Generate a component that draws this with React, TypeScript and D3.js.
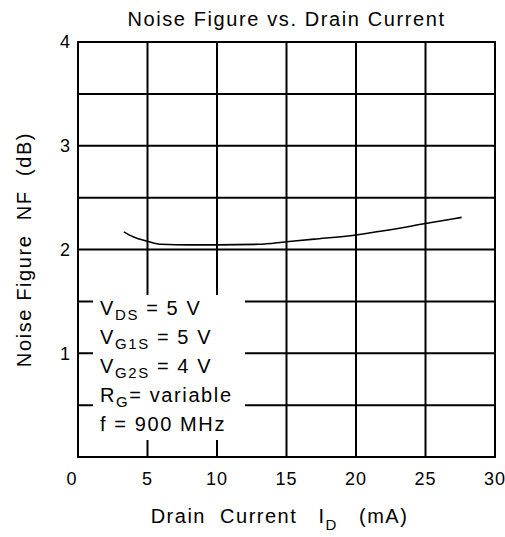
import React from 'react';
import * as d3 from 'd3';

// drain current (mA) and noise figure (dB)
const current = [3.3, 4, 5, 6, 8, 10, 13, 15, 17, 20, 22, 25, 27.6];
const noiseFigure = [2.17, 2.12, 2.08, 2.05, 2.045, 2.045, 2.05, 2.075, 2.1, 2.14, 2.18, 2.25, 2.31];

const xTicks = [0, 5, 10, 15, 20, 25, 30];
const yTicks = [0, 1, 2, 3, 4];
const yGrid = [0.5, 1, 1.5, 2, 2.5, 3, 3.5];

const conditions = [
  { main: 'V', sub: 'DS', rest: ' = 5 V' },
  { main: 'V', sub: 'G1S', rest: ' = 5 V' },
  { main: 'V', sub: 'G2S', rest: ' = 4 V' },
  { main: 'R', sub: 'G', rest: '= variable' },
  { main: 'f = 900 MHz', sub: '', rest: '' },
];

const W = 505;
const H = 537;
const margin = { top: 42, right: 10, bottom: 80, left: 78 };
const font = '"Liberation Sans", Arial, sans-serif';
const nb = '\u00a0'; // keeps the wide gaps in the axis titles

const App = () => {
  const x = d3.scaleLinear().domain([0, 30]).range([margin.left, W - margin.right]);
  const y = d3.scaleLinear().domain([0, 4]).range([H - margin.bottom, margin.top]);

  const line = d3
    .line<number>()
    .x((d, i) => x(current[i]))
    .y((d) => y(d))
    .curve(d3.curveMonotoneX);

  // white box behind the test conditions
  const box = { x0: 93, x1: 245, y0: 295, y1: 440 };

  return (
    <svg
      width={W}
      height={H}
      style={{ position: 'absolute', left: 0, top: 0, background: '#fff' }}
      fontFamily={font}
    >
      {/* grid */}
      {xTicks.slice(1, -1).map((t) => (
        <line key={'vx' + t} x1={x(t)} x2={x(t)} y1={y(0)} y2={y(4)} stroke="#000" strokeWidth={2} />
      ))}
      {yGrid.map((t) => (
        <line key={'hy' + t} x1={x(0)} x2={x(30)} y1={y(t)} y2={y(t)} stroke="#000" strokeWidth={2} />
      ))}
      <rect x={box.x0} y={box.y0} width={box.x1 - box.x0} height={box.y1 - box.y0} fill="#fff" />
      <rect
        x={x(0)}
        y={y(4)}
        width={x(30) - x(0)}
        height={y(0) - y(4)}
        fill="none"
        stroke="#000"
        strokeWidth={2}
      />

      {/* curve */}
      <path d={line(noiseFigure) || ''} fill="none" stroke="#000" strokeWidth={1.6} />

      {/* conditions */}
      <g fontSize={20} letterSpacing={1.6}>
        {conditions.map((c, i) => (
          <text key={i} x={100} y={315 + i * 29}>
            {c.main}
            {c.sub && (
              <tspan fontSize={15} dy={5}>
                {c.sub}
              </tspan>
            )}
            {c.rest && <tspan dy={c.sub ? -5 : 0}>{c.rest}</tspan>}
          </text>
        ))}
      </g>

      {/* tick labels */}
      <g fontSize={18}>
        {xTicks.map((t) => (
          <text key={'xl' + t} x={x(t) - (t === 0 ? 6 : 0)} y={485} textAnchor="middle" letterSpacing={1}>
            {t}
          </text>
        ))}
        {yTicks.map((t) => (
          <text key={'yl' + t} x={70} y={y(t)} dy="0.35em" textAnchor="end">
            {t === 0 ? '' : t}
          </text>
        ))}
      </g>

      {/* titles */}
      <text x={(x(0) + x(30)) / 2} y={26} textAnchor="middle" fontSize={20} letterSpacing={1.6}>
        Noise Figure vs. Drain Current
      </text>
      <text x={(x(0) + x(30)) / 2 - 7} y={523} textAnchor="middle" fontSize={20} letterSpacing={1.5}>
        {`Drain${nb} Current${nb} ${nb}I`}
        <tspan fontSize={15} dy={7}>
          D
        </tspan>
        <tspan dy={-7}>{`${nb} ${nb}(mA)`}</tspan>
      </text>
      <text
        transform={`translate(31,${(y(0) + y(4)) / 2}) rotate(-90)`}
        textAnchor="middle"
        fontSize={20}
        letterSpacing={1.6}
      >
        {`Noise Figure${nb} NF${nb} (dB)`}
      </text>
    </svg>
  );
};

export default App;
